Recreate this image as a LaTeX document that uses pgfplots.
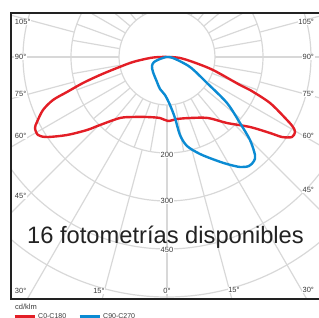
\documentclass[border=0pt]{standalone}
\usepackage{fontspec}
\setmainfont{Liberation Sans}
\usepackage{pgfplots}
\pgfplotsset{compat=1.18}
\definecolor{gridc}{HTML}{D8D8D8}
\definecolor{redc}{HTML}{E31E26}
\definecolor{bluec}{HTML}{0B8BD3}
\definecolor{txt}{HTML}{3A3A3A}
\definecolor{framec}{HTML}{222222}
\begin{document}
\begin{tikzpicture}[x=1pt,y=1pt]
\useasboundingbox (-167,-261) rectangle (152,57);
\begin{scope}
\clip (-156,-242) rectangle (160,44);
\foreach \r in {48,96,...,384} \draw[gridc, line width=1.2pt] (0,0) circle (\r pt);
\foreach \a in {0,10,...,350} \draw[gridc, line width=1.2pt] (\a:48pt) -- (\a:96pt);
\foreach \a in {0,15,...,345} \draw[gridc, line width=1.2pt] (\a:96pt) -- (\a:420pt);
\end{scope}
\begin{axis}[at={(0,0)}, anchor=origin, x=1pt, y=1pt,
  xmin=-167, xmax=152, ymin=-261, ymax=57, hide axis, clip=false,
  legend columns=2,
  legend style={at={(axis cs:-154,-260)}, anchor=west, draw=none, fill=none,
    inner sep=0pt, font=\fontsize{7}{8}\selectfont, text=txt,
    /tikz/every even column/.append style={column sep=10pt}},
  legend image code/.code={\draw[#1, line width=3pt] (0pt,0pt) -- (20pt,0pt);}]
\addplot[redc, line width=2.4pt, smooth, tension=0.5] coordinates {
(3,0) (13,-1) (26,-5) (46,-13) (73,-28) (83,-33) (103,-46) (120,-63) (126,-70)
(128,-75) (125,-80) (115,-80) (103,-76) (83,-70) (60,-66) (41,-61) (23,-61)
(10,-62) (1,-64) (-7,-61) (-20,-60) (-34,-60) (-47,-61) (-67,-68) (-80,-73)
(-100,-78) (-120,-80) (-129,-78) (-132,-71) (-130,-65) (-124,-53) (-114,-43)
(-100,-35) (-84,-26) (-67,-18) (-50,-11) (-34,-5) (-17,-1) (-7,0) (3,0)};
\addlegendentry{C0-C180}
\addplot[bluec, line width=2.4pt, smooth, tension=0.5] coordinates {
(-1,0) (6,-1) (23,-10) (40,-26) (60,-46) (73,-66) (83,-83) (88,-98) (87,-104)
(82,-109) (73,-110) (60,-107) (48,-103) (33,-97) (20,-89) (13,-78) (8,-61)
(3,-48) (-2,-38) (-7,-32) (-10,-25) (-14,-15) (-15,-9) (-13,-5) (-7,-2) (-1,0)};
\addlegendentry{C90-C270}
\end{axis}
\tikzset{lab/.style={fill=white, inner sep=0.8pt, text=txt, font=\fontsize{7.5}{8}\selectfont}}
% left angle labels
\node[lab, anchor=west] at (-153,35) {105°};
\node[lab, anchor=west] at (-153,0) {90°};
\node[lab, anchor=west] at (-153,-37) {75°};
\node[lab, anchor=west] at (-153,-79) {60°};
\node[lab, anchor=west] at (-153,-139) {45°};
\node[lab, anchor=west] at (-153,-234) {30°};
% right angle labels
\node[lab, anchor=east] at (148,35) {105°};
\node[lab, anchor=east] at (148,0) {90°};
\node[lab, anchor=east] at (148,-37) {75°};
\node[lab, anchor=east] at (148,-79) {60°};
\node[lab, anchor=east] at (148,-133) {45°};
\node[lab, anchor=east] at (148,-233) {30°};
% bottom angle labels
\node[lab] at (-68,-234) {15°};
\node[lab] at (0,-234) {0°};
\node[lab] at (67,-233) {15°};
% ring labels
\node[lab] at (0,-98) {200};
\node[lab] at (0,-144) {300};
\node[lab] at (0,-193) {450};
% big text
\node[anchor=base, text=framec, font=\fontsize{23.7}{25}\selectfont, inner sep=0pt] at (-1.5,-186.5) {16 fotometrías disponibles};
% frame
\draw[framec, line width=2pt] (200,44) -- (-156,44) -- (-156,-242) -- (200,-242);
% unit label
\node[anchor=west, text=txt, font=\fontsize{7.5}{8}\selectfont, inner sep=0pt] at (-152,-250) {cd/klm};
\end{tikzpicture}
\end{document}
